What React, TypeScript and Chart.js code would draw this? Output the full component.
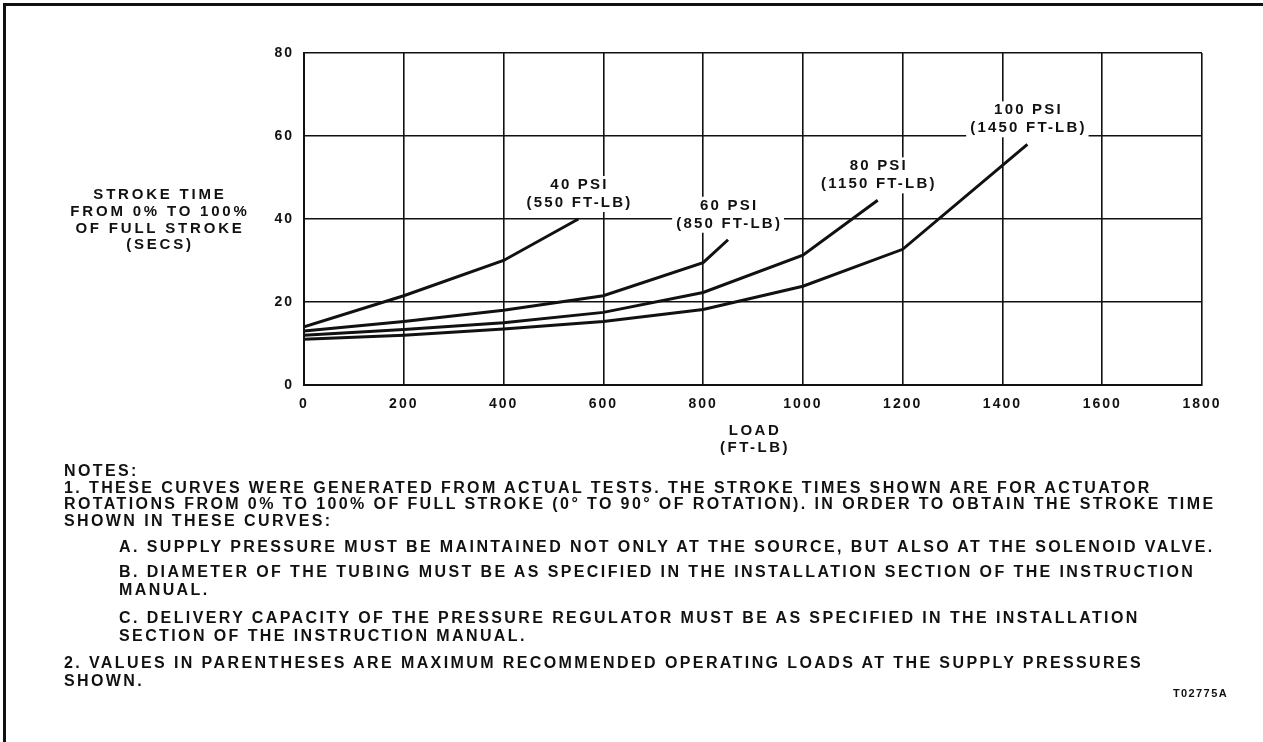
import React, { useEffect, useRef } from "react";
import { Chart, registerables } from "chart.js";

Chart.register(...registerables);

// Axis ticks
const loadTicks = [0, 200, 400, 600, 800, 1000, 1200, 1400, 1600, 1800];
const timeTicks = [0, 20, 40, 60, 80];

// Stroke time (s) vs. load (ft-lb) for each supply pressure
const psi40Load = [0, 200, 400, 550];
const psi40Time = [14, 21.5, 30, 40];

const psi60Load = [0, 200, 400, 600, 800, 850];
const psi60Time = [13, 15.3, 18, 21.5, 29.5, 35];

const psi80Load = [0, 200, 400, 600, 800, 1000, 1150];
const psi80Time = [12, 13.4, 15, 17.5, 22.3, 31.3, 44.5];

const psi100Load = [0, 200, 400, 600, 800, 1000, 1200, 1450];
const psi100Time = [11, 12, 13.5, 15.3, 18.2, 23.8, 32.7, 58];

const pressureNames = ["40 PSI", "60 PSI", "80 PSI", "100 PSI"];
const seriesLoads = [psi40Load, psi60Load, psi80Load, psi100Load];
const seriesTimes = [psi40Time, psi60Time, psi80Time, psi100Time];

const yTitleLines = ["STROKE TIME", "FROM 0% TO 100%", "OF FULL STROKE", "(SECS)"];
const xTitleLines = ["LOAD", "(FT-LB)"];

const noteLines = [
  { text: "NOTES:", indent: false, y: 471 },
  { text: "1. THESE CURVES WERE GENERATED FROM ACTUAL TESTS. THE STROKE TIMES SHOWN ARE FOR ACTUATOR", indent: false, y: 487.5 },
  { text: "ROTATIONS FROM 0% TO 100% OF FULL STROKE (0° TO 90° OF ROTATION). IN ORDER TO OBTAIN THE STROKE TIME", indent: false, y: 504 },
  { text: "SHOWN IN THESE CURVES:", indent: false, y: 520.5 },
  { text: "A. SUPPLY PRESSURE MUST BE MAINTAINED NOT ONLY AT THE SOURCE, BUT ALSO AT THE SOLENOID VALVE.", indent: true, y: 547 },
  { text: "B. DIAMETER OF THE TUBING MUST BE AS SPECIFIED IN THE INSTALLATION SECTION OF THE INSTRUCTION", indent: true, y: 572 },
  { text: "MANUAL.", indent: true, y: 589.5 },
  { text: "C. DELIVERY CAPACITY OF THE PRESSURE REGULATOR MUST BE AS SPECIFIED IN THE INSTALLATION", indent: true, y: 618 },
  { text: "SECTION OF THE INSTRUCTION MANUAL.", indent: true, y: 636 },
  { text: "2. VALUES IN PARENTHESES ARE MAXIMUM RECOMMENDED OPERATING LOADS AT THE SUPPLY PRESSURES", indent: false, y: 663 },
  { text: "SHOWN.", indent: false, y: 681 },
];
const drawingNumber = "T02775A";

const INK = "#111";
const FONT = '"Liberation Sans", Arial, Helvetica, sans-serif';

const annotate = {
  id: "annotate",
  beforeUpdate(chart: any) {
    chart.ctx.letterSpacing = "2px";
  },
  beforeDraw(chart: any) {
    chart.ctx.letterSpacing = "2px";
  },
  afterDatasetsDraw(chart: any) {
    const ctx = chart.ctx as CanvasRenderingContext2D;
    const { left, right, top, bottom } = chart.chartArea;
    ctx.save();
    ctx.fillStyle = INK;
    ctx.textAlign = "center";
    ctx.textBaseline = "middle";
    ctx.font = `bold 15px ${FONT}`;
    (ctx as any).letterSpacing = "2.2px";

    // pressure / max-load labels above the end of each curve
    chart.data.datasets.forEach((ds: any, i: number) => {
      const meta = chart.getDatasetMeta(i);
      const endPt = meta.data[meta.data.length - 1];
      const endLoad = ds.data[ds.data.length - 1].x;
      const lines = [pressureNames[i], `(${endLoad} FT-LB)`];
      const cx = endPt.x;
      const ys = [endPt.y - 34, endPt.y - 16];
      let w = 0;
      lines.forEach((l) => (w = Math.max(w, ctx.measureText(l).width)));
      ctx.fillStyle = "#fff";
      ctx.fillRect(cx - w / 2 - 3, ys[0] - 9, w + 6, ys[1] - ys[0] + 18);
      ctx.fillStyle = INK;
      lines.forEach((l, k) => ctx.fillText(l, cx + 1.1, ys[k]));
    });

    // axis titles
    (ctx as any).letterSpacing = "2.8px";
    const midY = (top + bottom) / 2;
    const yx = left - 144;
    yTitleLines.forEach((l, k) => {
      ctx.fillText(l, yx, midY + 1 + (k - 1.5) * 16.8);
    });
    (ctx as any).letterSpacing = "2.5px";
    const midX = (left + right) / 2;
    xTitleLines.forEach((l, k) => {
      ctx.fillText(l, midX + 2, bottom + 46 + k * 17);
    });
    ctx.restore();
  },
};

export default function App() {
  const canvasRef = useRef<HTMLCanvasElement | null>(null);

  useEffect(() => {
    const canvas = canvasRef.current;
    if (!canvas) return;
    const datasets = seriesLoads.map((loads, i) => ({
      label: pressureNames[i],
      data: loads.map((x, k) => ({ x, y: seriesTimes[i][k] })),
      borderColor: INK,
      borderWidth: 3,
      pointRadius: 0,
      tension: 0,
      fill: false,
    }));
    const tickFont = { family: FONT, weight: "bold" as const, size: 14 };
    const chart = new Chart(canvas, {
      type: "line",
      data: { datasets },
      options: {
        animation: false,
        responsive: false,
        events: [],
        layout: { padding: { left: 244, right: 61, top: 53, bottom: 317 } },
        plugins: { legend: { display: false }, tooltip: { enabled: false } },
        scales: {
          x: {
            type: "linear",
            min: loadTicks[0],
            max: loadTicks[loadTicks.length - 1],
            afterBuildTicks: (s: any) => {
              s.ticks = loadTicks.map((v) => ({ value: v }));
            },
            afterFit: (s: any) => {
              s.height = 40;
            },
            grid: { color: INK, lineWidth: 1.6, drawTicks: false },
            border: { color: INK, width: 2 },
            ticks: {
              color: INK,
              font: tickFont,
              padding: 11,
              maxRotation: 0,
              autoSkip: false,
              callback: (v: any) => String(v),
            },
          },
          y: {
            type: "linear",
            min: timeTicks[0],
            max: timeTicks[timeTicks.length - 1],
            afterBuildTicks: (s: any) => {
              s.ticks = timeTicks.map((v) => ({ value: v }));
            },
            afterFit: (s: any) => {
              s.width = 60;
            },
            grid: { color: INK, lineWidth: 1.6, drawTicks: false },
            border: { color: INK, width: 2 },
            ticks: { color: INK, font: tickFont, padding: 10, callback: (v: any) => String(v) },
          },
        },
      },
      plugins: [annotate],
    });
    return () => chart.destroy();
  }, []);

  return (
    <div
      style={{
        position: "fixed",
        left: 0,
        top: 0,
        width: 1263,
        height: 742,
        background: "#fff",
        overflow: "hidden",
      }}
    >
      <div
        style={{
          position: "absolute",
          left: 3,
          top: 3,
          width: 1300,
          height: 800,
          borderTop: `3px solid ${INK}`,
          borderLeft: `3px solid ${INK}`,
        }}
      />
      <canvas ref={canvasRef} width={1263} height={742} style={{ position: "absolute", left: 0, top: 0 }} />
      {noteLines.map((n, i) => (
        <div
          key={i}
          style={{
            position: "absolute",
            left: n.indent ? 119 : 64,
            top: n.y - 9,
            height: 18,
            lineHeight: "18px",
            whiteSpace: "nowrap",
            fontFamily: FONT,
            fontWeight: "bold",
            fontSize: 16,
            letterSpacing: "2.4px",
            color: INK,
          }}
        >
          {n.text}
        </div>
      ))}
      <div
        style={{
          position: "absolute",
          right: 1263 - 1228,
          top: 693 - 8,
          lineHeight: "16px",
          whiteSpace: "nowrap",
          fontFamily: FONT,
          fontWeight: "bold",
          fontSize: 11,
          letterSpacing: "1.4px",
          color: INK,
        }}
      >
        {drawingNumber}
      </div>
    </div>
  );
}
